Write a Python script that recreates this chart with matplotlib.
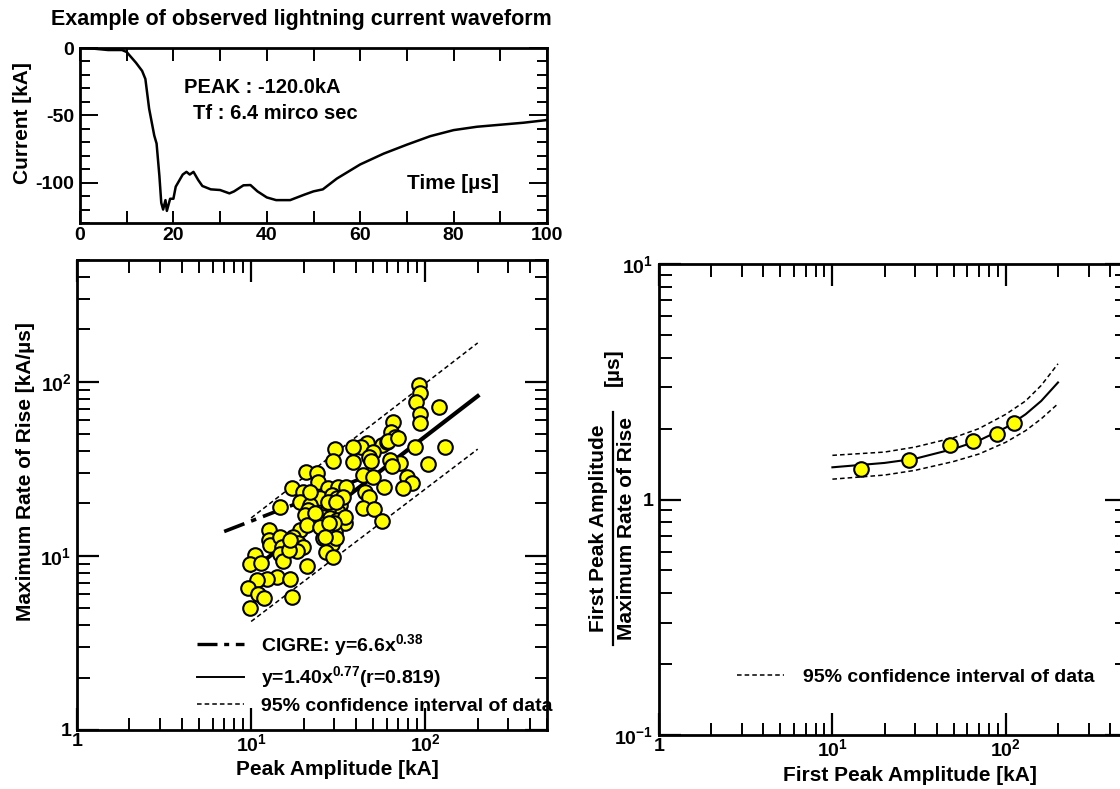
import numpy as np
import matplotlib.pyplot as plt
from matplotlib.lines import Line2D
from matplotlib.ticker import MultipleLocator, FixedLocator, FuncFormatter, NullFormatter

plt.rcParams.update({
    "font.family": ["Liberation Sans", "DejaVu Sans"],
    "font.weight": "bold",
    "font.size": 14,
    "mathtext.fontset": "custom",
    "mathtext.default": "bf",
    "mathtext.bf": "Liberation Sans:bold",
    "mathtext.rm": "Liberation Sans:bold",
    "axes.unicode_minus": False,
    "axes.linewidth": 2.0,
    "xtick.direction": "in",
    "ytick.direction": "in",
    "xtick.top": True,
    "ytick.right": True,
})

# ---- waveform (top) ----
wave_t = [0, 3, 6, 9, 10, 12, 13.3, 14, 14.8, 15.9, 16.4, 17, 17.4, 17.8, 18.3,
          18.6, 19.3, 20, 20.5, 22, 22.8, 23.5, 24.3, 25.3, 26.2, 28, 30, 32,
          33, 35, 36.5, 38, 40, 42, 45, 48, 50, 52, 55, 60, 65, 70, 75, 80,
          85, 90, 95, 100]
wave_i = [0, -0.5, -1.5, -1.5, -3, -11, -17, -23, -45, -65, -71, -95, -115,
          -120, -113, -121, -112, -112, -103, -94, -92, -94, -92, -98, -102.5,
          -105, -105.5, -108, -106.5, -102, -101.8, -106.5, -111, -113, -113,
          -109, -106.5, -105, -97, -86.5, -78.5, -71.8, -65.5, -61, -58.5,
          -57, -55.5, -53.5]

# ---- peak amplitude vs max rate of rise (bottom left) ----
peak_ka = [92.1, 93.3, 88.5, 120.5, 93.3, 93.3, 65.1, 63.4, 67.1, 56.2, 60.1,
           46.1, 42.6, 50.4, 38.3, 30.5, 29.7, 38.3, 47.8, 48.8, 87.4, 130,
           104.2, 71.7, 62.8, 64.2, 78.3, 83.6, 74.8, 44.1, 50.4, 58.2, 45.3,
           47.8, 44.1, 50.8, 56.2, 20.7, 23.8, 24.3, 17.1, 19.9, 19.1, 27.8,
           31.7, 34.9, 24.9, 21.8, 29.0, 31.0, 32.4, 31.7, 27.8, 26.0, 28.4,
           31.0, 34.6, 23.8, 21.3, 20.4, 14.7, 19.1, 20.9, 17.5, 18.7, 19.9,
           18.3, 26.0, 27.2, 30.3, 29.0, 26.9, 29.4, 12.7, 12.6, 12.8, 14.7,
           15.0, 14.7, 15.2, 10.5, 9.9, 11.4, 16.6, 20.9, 14.0, 12.3, 16.7,
           10.8, 9.6, 11.0, 11.9, 17.1, 9.9, 24.9, 27.8, 33.9, 16.7, 23.3,
           21.8, 60.9, 70.1, 30.6, 34.5, 29.9, 27.9, 30.6, 26.6]
rate_kaus = [95.9, 86.6, 76.9, 71.9, 65.3, 57.8, 59.0, 51.7, 48.4, 43.4, 45.3,
             44.3, 42.0, 39.7, 42.0, 41.0, 35.2, 34.8, 36.8, 35.2, 42.0, 42.0,
             33.7, 34.3, 35.6, 32.8, 28.5, 26.1, 24.4, 29.1, 28.5, 25.0, 23.4,
             21.9, 18.8, 18.5, 15.9, 30.5, 29.8, 26.7, 24.4, 23.4, 20.5, 24.4,
             25.0, 25.0, 21.4, 19.6, 22.4, 21.4, 19.6, 17.9, 18.4, 16.8, 16.4,
             16.1, 15.4, 15.7, 18.4, 17.2, 19.2, 14.1, 15.0, 12.9, 11.8, 11.3,
             10.6, 12.6, 13.5, 13.7, 11.7, 10.5, 9.9, 14.1, 12.3, 11.6, 12.9,
             11.3, 10.3, 9.3, 10.1, 9.0, 9.1, 10.8, 8.8, 7.6, 7.4, 7.4, 7.3,
             6.5, 6.0, 5.7, 5.8, 5.0, 14.7, 20.5, 21.9, 12.3, 17.6, 23.4, 45.9,
             47.4, 20.5, 16.8, 15.4, 15.4, 12.6, 12.9]

fit_x = [10, 200]            # y = 1.40 x^0.77
fit_y = [8.24, 82.7]
cigre_x = [7, 50]            # y = 6.6 x^0.38
cigre_y = [13.8, 29.5]
ci_x = [10, 200]
ci_upper = [16.5, 167]
ci_lower = [4.2, 41]

# ---- peak / rate ratio (right) ----
ratio_x = [14.7, 27.5, 47.9, 64.6, 89, 112]
ratio_y = [1.345, 1.47, 1.71, 1.77, 1.905, 2.12]
curve_x = [10, 20, 30, 50, 70, 100, 130, 160, 200]
curve_y = [1.37, 1.43, 1.49, 1.64, 1.78, 2.02, 2.3, 2.62, 3.14]
curve_upper = [1.54, 1.59, 1.67, 1.83, 2.0, 2.3, 2.62, 3.05, 3.77]
curve_lower = [1.22, 1.27, 1.33, 1.45, 1.56, 1.75, 1.96, 2.2, 2.55]

W, H = 1120, 789
fig = plt.figure(figsize=(W / 100, H / 100), dpi=100)


def box(l, t, r, b):
    return [l / W, 1 - b / H, (r - l) / W, (b - t) / H]


def log_fmt(v, pos):
    if abs(v - 1) < 1e-9:
        return "1"
    e = int(round(np.log10(v)))
    return r"$10^{%d}$" % e


def style_log(ax, yticks):
    ax.set_xscale("log")
    ax.set_yscale("log")
    ax.xaxis.set_major_locator(FixedLocator([1, 10, 100]))
    ax.yaxis.set_major_locator(FixedLocator(yticks))
    minors = [m * 10 ** d for d in range(-2, 3) for m in range(2, 10)]
    ax.xaxis.set_minor_locator(FixedLocator(minors))
    ax.yaxis.set_minor_locator(FixedLocator(minors))
    ax.xaxis.set_major_formatter(FuncFormatter(log_fmt))
    ax.yaxis.set_major_formatter(FuncFormatter(log_fmt))
    ax.xaxis.set_minor_formatter(NullFormatter())
    ax.yaxis.set_minor_formatter(NullFormatter())
    ax.tick_params(which="major", length=16, width=1.6, labelsize=14)
    ax.tick_params(axis="x", which="major", pad=2)
    ax.tick_params(axis="y", which="major", pad=4)
    ax.tick_params(which="minor", length=9, width=1.4)


# top waveform
ax1 = fig.add_axes(box(80, 48, 547, 223))
ax1.plot(wave_t, wave_i, color="black", lw=1.8)
ax1.set_xlim(0, 100)
ax1.set_ylim(-130, 0)
ax1.xaxis.set_major_locator(MultipleLocator(20))
ax1.xaxis.set_minor_locator(MultipleLocator(10))
ax1.yaxis.set_major_locator(FixedLocator([0, -50, -100]))
ax1.yaxis.set_minor_locator(MultipleLocator(10))
ax1.tick_params(axis="x", which="both", length=9, width=1.4, labelsize=14, pad=3)
ax1.tick_params(axis="y", which="major", length=13, width=1.4, labelsize=14, pad=4)
ax1.tick_params(axis="y", which="minor", length=7, width=1.4)
ax1.set_ylabel("Current [kA]", fontsize=15, fontweight="bold", va="center")
ax1.yaxis.set_label_coords(-0.124, 0.571)
ax1.text(22.3, -29.2, "PEAK : -120.0kA", fontsize=14.5, va="center")
ax1.text(24.2, -48.5, "Tf : 6.4 mirco sec", fontsize=14.5, va="center")
ax1.text(70, -100.5, "Time [\u00b5s]", fontsize=15, va="center")
fig.text(301 / W, 1 - 20 / H, "Example of observed lightning current waveform",
         ha="center", va="center", fontsize=15.5, fontweight="bold")

# bottom-left scatter
ax2 = fig.add_axes(box(77, 260, 547, 730))
ax2.plot(ci_x, ci_upper, color="black", lw=1.1, ls=(0, (3, 2)), zorder=2)
ax2.plot(ci_x, ci_lower, color="black", lw=1.1, ls=(0, (3, 2)), zorder=2)
ax2.plot(cigre_x, cigre_y, color="black", lw=2.6, ls=(0, (6, 2, 1.5, 2)), zorder=2)
ax2.plot(fit_x, fit_y, color="black", lw=3.0, zorder=2)
ax2.scatter(peak_ka, rate_kaus, s=110, facecolor="#FFFF00", edgecolor="black",
            linewidth=1.5, zorder=3)
ax2.set_xlim(1, 500)
ax2.set_ylim(1, 500)
style_log(ax2, [1, 10, 100])
ax2.set_xlabel("Peak Amplitude [kA]", fontsize=15, fontweight="bold", va="center")
ax2.xaxis.set_label_coords(0.555, -0.085)
ax2.set_ylabel("Maximum Rate of Rise [kA/\u00b5s]", fontsize=15,
               fontweight="bold", va="center")
ax2.yaxis.set_label_coords(-0.11, 0.549)
handles = [
    Line2D([], [], color="black", lw=2.4, ls=(0, (6, 2, 1.5, 2))),
    Line2D([], [], color="black", lw=1.4),
    Line2D([], [], color="black", lw=1.1, ls=(0, (3, 2))),
]
labels = ["CIGRE: y=6.6x$^{0.38}$", "y=1.40x$^{0.77}$(r=0.819)",
          "95% confidence interval of data"]
ax2.legend(handles, labels, loc="center left", bbox_to_anchor=(0.255, 0.121),
           frameon=False, fontsize=14, handlelength=2.4, handletextpad=0.9,
           labelspacing=0.35, borderpad=0, borderaxespad=0)

# right ratio plot
ax3 = fig.add_axes(box(659, 264, 1127, 735))
ax3.plot(curve_x, curve_upper, color="black", lw=1.1, ls=(0, (3, 2)), zorder=2)
ax3.plot(curve_x, curve_lower, color="black", lw=1.1, ls=(0, (3, 2)), zorder=2)
ax3.plot(curve_x, curve_y, color="black", lw=1.5, zorder=2)
ax3.scatter(ratio_x, ratio_y, s=110, facecolor="#FFFF00", edgecolor="black",
            linewidth=1.5, zorder=3)
ax3.set_xlim(1, 500)
ax3.set_ylim(0.1, 10)
style_log(ax3, [0.1, 1, 10])
ax3.set_xlabel("First Peak Amplitude [kA]", fontsize=15, fontweight="bold",
               va="center")
ax3.xaxis.set_label_coords(0.536, -0.087)
ax3.legend([Line2D([], [], color="black", lw=1.1, ls=(0, (3, 2)))],
           ["95% confidence interval of data"], loc="center left",
           bbox_to_anchor=(0.167, 0.123), frameon=False, fontsize=14,
           handlelength=2.4, handletextpad=1.0, borderpad=0, borderaxespad=0)

fig.text(598 / W, 1 - 528 / H, "First Peak Amplitude", rotation=90,
         ha="center", va="center", fontsize=15, fontweight="bold")
fig.text(627 / W, 1 - 528 / H, "Maximum Rate of Rise", rotation=90,
         ha="center", va="center", fontsize=15, fontweight="bold")
fig.add_artist(Line2D([613 / W, 613 / W], [1 - 412 / H, 1 - 645 / H],
                      color="black", lw=1.6, transform=fig.transFigure))
fig.text(613 / W, 1 - 367 / H, "[\u00b5s]", rotation=90, ha="center",
         va="center", fontsize=15, fontweight="bold")

fig.savefig("out.png", dpi=100)
